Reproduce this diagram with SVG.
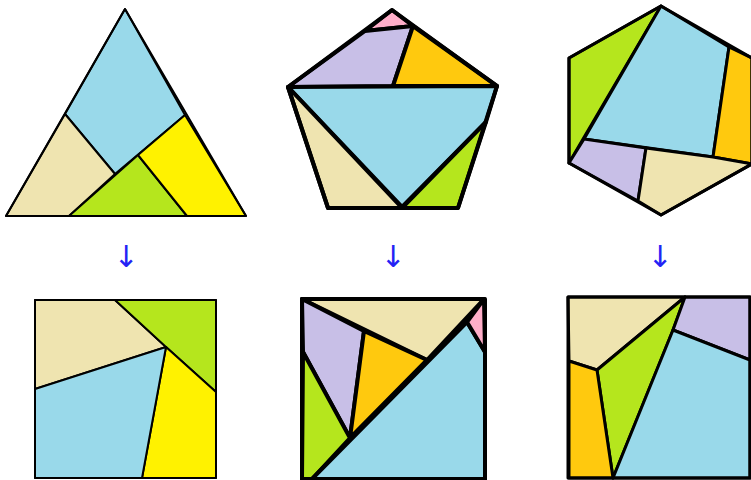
<svg xmlns="http://www.w3.org/2000/svg" width="751" height="480" viewBox="0 0 751 480">
<style>
.p{stroke:#000;stroke-linejoin:round}
.blue{fill:#99D9EA}.tan{fill:#EFE4B0}.green{fill:#B5E61D}.yellow{fill:#FFF200}
.orange{fill:#FFC90E}.purple{fill:#C8BFE7}.pink{fill:#FFAEC9}
.w2{stroke-width:2}.w3{stroke-width:3}.w4{stroke-width:4}
.arr{fill:#2323F5;font-family:"DejaVu Sans",sans-serif;font-size:30px;text-anchor:middle}
</style>
<rect width="751" height="480" fill="#fff"/>
<g id="triangle" class="p w2">
<polygon class="blue" points="125,9 185,115 115,174 65,114"/>
<polygon class="tan" points="65,114 115,174 69,216 6,216"/>
<polygon class="green" points="69,216 138,155 187,216"/>
<polygon class="yellow" points="138,155 185,115 246,216 187,216"/>
<polygon fill="none" points="125,9 246,216 6,216"/>
</g>
<g id="pentagon" class="p w4">
<polygon class="pink" points="392,10 413,26 365,31"/>
<polygon class="purple" points="288,87 365,31 413,26 393,86"/>
<polygon class="orange" points="413,26 497,86 393,86"/>
<polygon class="blue" points="288,87 497,86 486,122 402,207"/>
<polygon class="green" points="486,122 458,208 402,208"/>
<polygon class="tan" points="288,87 402,208 328,208"/>
<polygon fill="none" points="392,10 497,86 458,208 328,208 288,87"/>
</g>
<g id="hexagon" class="p w3">
<polygon class="green" points="661,6 569,58 569,163"/>
<polygon class="blue" points="661,6 729,47 713,157 584,139"/>
<polygon class="orange" points="729,47 752,58 752,164 713,157"/>
<polygon class="purple" points="584,139 646,148 638,201 569,163"/>
<polygon class="tan" points="646,148 713,157 752,164 661,215 638,201"/>
<polygon fill="none" points="661,6 752,58 752,164 661,215 569,163 569,58"/>
</g>
<g id="square1" class="p w2">
<polygon class="tan" points="35,300 115,300 166,347 35,389"/>
<polygon class="green" points="115,300 216,300 216,392 166,347"/>
<polygon class="yellow" points="166,347 216,392 216,478 142,478"/>
<polygon class="blue" points="35,389 166,347 142,478 35,478"/>
<rect x="35" y="300" width="181" height="178" fill="none"/>
</g>
<g id="square2" class="p w4">
<polygon class="tan" points="302,299 484,299 427,360"/>
<polygon class="purple" points="302,299 364,331 350,438 303,352"/>
<polygon class="orange" points="364,331 427,360 350,438"/>
<polygon class="green" points="303,352 350,438 312,479 302,479"/>
<polygon class="blue" points="312,479 467,322 485,352 485,479"/>
<polygon class="pink" points="467,322 484,299 485,352"/>
<rect x="302" y="299" width="183" height="180" fill="none"/>
</g>
<g id="square3" class="p w3">
<polygon class="tan" points="568,297 685,297 597,370 569,361"/>
<polygon class="green" points="685,297 597,370 613,478 673,330"/>
<polygon class="purple" points="685,297 750,297 750,360 673,330"/>
<polygon class="blue" points="673,330 750,360 750,478 613,478"/>
<polygon class="orange" points="569,361 597,370 613,478 569,478"/>
<rect x="568" y="297" width="182" height="181" fill="none"/>
</g>
<g id="arrows">
<text class="arr" x="126" y="267">↓</text>
<text class="arr" x="393" y="267">↓</text>
<text class="arr" x="660" y="267">↓</text>
</g>
</svg>
